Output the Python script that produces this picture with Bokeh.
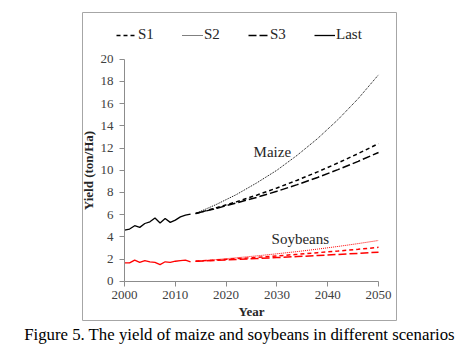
from bokeh.plotting import figure
from bokeh.models import (Legend, LegendItem, FixedTicker, Range1d, LinearAxis, Title)
from bokeh.core.properties import value
from bokeh.embed import file_html
from bokeh.resources import INLINE

hist_years = list(range(2000, 2014))
maize_last = [4.6, 4.7, 5.0, 4.85, 5.2, 5.35, 5.7, 5.25, 5.65, 5.3, 5.5, 5.8, 5.95, 6.05]
soy_last = [1.65, 1.65, 1.9, 1.7, 1.85, 1.75, 1.7, 1.5, 1.75, 1.7, 1.8, 1.85, 1.9, 1.75]

proj_years = [2014, 2018, 2022, 2026, 2030, 2034, 2038, 2042, 2046, 2050]
maize_s1 = [6.1, 6.6, 7.15, 7.75, 8.4, 9.1, 9.85, 10.65, 11.5, 12.4]
maize_s2 = [6.1, 6.9, 7.8, 8.85, 10.0, 11.35, 12.85, 14.55, 16.45, 18.6]
maize_s3 = [6.1, 6.55, 7.05, 7.55, 8.1, 8.7, 9.35, 10.05, 10.8, 11.6]
soy_s1 = [1.8, 1.91, 2.03, 2.15, 2.28, 2.42, 2.57, 2.72, 2.88, 3.05]
soy_s2 = [1.8, 1.95, 2.11, 2.28, 2.47, 2.67, 2.89, 3.13, 3.39, 3.67]
soy_s3 = [1.8, 1.88, 1.96, 2.04, 2.13, 2.22, 2.31, 2.41, 2.51, 2.62]

x_ticks = [2000, 2010, 2020, 2030, 2040, 2050]
y_ticks = list(range(0, 21, 2))
scenario_names = ["S1", "S2", "S3", "Last"]
caption_text = "Figure 5. The yield of maize and soybeans in different scenarios"

SERIF = "Liberation Serif"
W, H = 460, 350
FL, FT, FW, FH = 82, 12, 314, 308

p = figure(width=W, height=H, output_backend="svg", toolbar_location=None,
           x_range=Range1d(1991.73, 2053.54), y_range=Range1d(-3.54, 24.21),
           x_axis_location=None, y_axis_location=None,
           frame_width=FW, frame_height=FH,
           min_border_left=FL, min_border_right=W - FL - FW,
           min_border_top=FT, min_border_bottom=H - FT - FH)
p.outline_line_color = "#a6a6a6"
p.outline_line_width = 1
p.grid.visible = False
p.background_fill_color = "white"
p.border_fill_color = "white"

xaxis = LinearAxis(fixed_location=0, bounds=(2000, 2050), ticker=FixedTicker(ticks=x_ticks),
                   axis_label="Year")
yaxis = LinearAxis(fixed_location=2000, bounds=(0, 20), ticker=FixedTicker(ticks=y_ticks),
                   axis_label="Yield (ton/Ha)")
for ax in (xaxis, yaxis):
    ax.axis_line_color = "#8c8c8c"
    ax.major_tick_line_color = "#8c8c8c"
    ax.minor_tick_line_color = None
    ax.major_tick_out = 5
    ax.major_tick_in = 0
    ax.major_label_text_font = SERIF
    ax.major_label_text_font_size = "13px"
    ax.major_label_text_color = "#404040"
    ax.axis_label_text_font = SERIF
    ax.axis_label_text_font_style = "bold"
    ax.axis_label_text_font_size = "13px"
    ax.axis_label_text_color = "#262626"
xaxis.axis_label_standoff = 1
yaxis.major_label_standoff = 6
yaxis.axis_label_standoff = 2
p.add_layout(xaxis, "below")
p.add_layout(yaxis, "left")

dashes = {"S1": "4 3", "S2": "1 1", "S3": "8 3", "Last": "solid"}
widths = {"S1": 1.5, "S2": 1, "S3": 1.5, "Last": 1.3}

r = {}
r["S1"] = p.line(proj_years, maize_s1, color="black", line_dash=dashes["S1"], line_width=widths["S1"])
r["S2"] = p.line(proj_years, maize_s2, color="black", line_dash=dashes["S2"], line_width=widths["S2"])
r["S3"] = p.line(proj_years, maize_s3, color="black", line_dash=dashes["S3"], line_width=widths["S3"])
r["Last"] = p.line(hist_years, maize_last, color="black", line_width=widths["Last"])
p.line(proj_years, soy_s1, color="red", line_dash=dashes["S1"], line_width=widths["S1"])
p.line(proj_years, soy_s2, color="red", line_dash=dashes["S2"], line_width=widths["S2"])
p.line(proj_years, soy_s3, color="red", line_dash=dashes["S3"], line_width=widths["S3"])
p.line(hist_years, soy_last, color="red", line_width=widths["Last"])

p.text(x=[2029.1], y=[11.6], text=["Maize"], text_font=value(SERIF),
       text_font_size="15px", text_align="center", text_baseline="middle", text_color="#262626")
p.text(x=[2034.6], y=[3.8], text=["Soybeans"], text_font=value(SERIF),
       text_font_size="15px", text_align="center", text_baseline="middle", text_color="#262626")

legend = Legend(items=[LegendItem(label=n, renderers=[r[n]]) for n in scenario_names],
                location=(34, 277), orientation="horizontal",
                glyph_width=21, glyph_height=16, label_height=16, label_width=16,
                label_standoff=1, spacing=28, padding=0, margin=0, border_line_color=None,
                background_fill_alpha=0,
                label_text_font=SERIF, label_text_font_size="15px", label_text_color="#262626")
p.add_layout(legend, "center")

cap = Title(text=caption_text, align="center", offset=0, standoff=5,
            text_font=SERIF, text_font_size="16.8px", text_font_style="normal",
            text_color="black")
p.add_layout(cap, "below")

open("out.html", "w").write(file_html(p, INLINE))
